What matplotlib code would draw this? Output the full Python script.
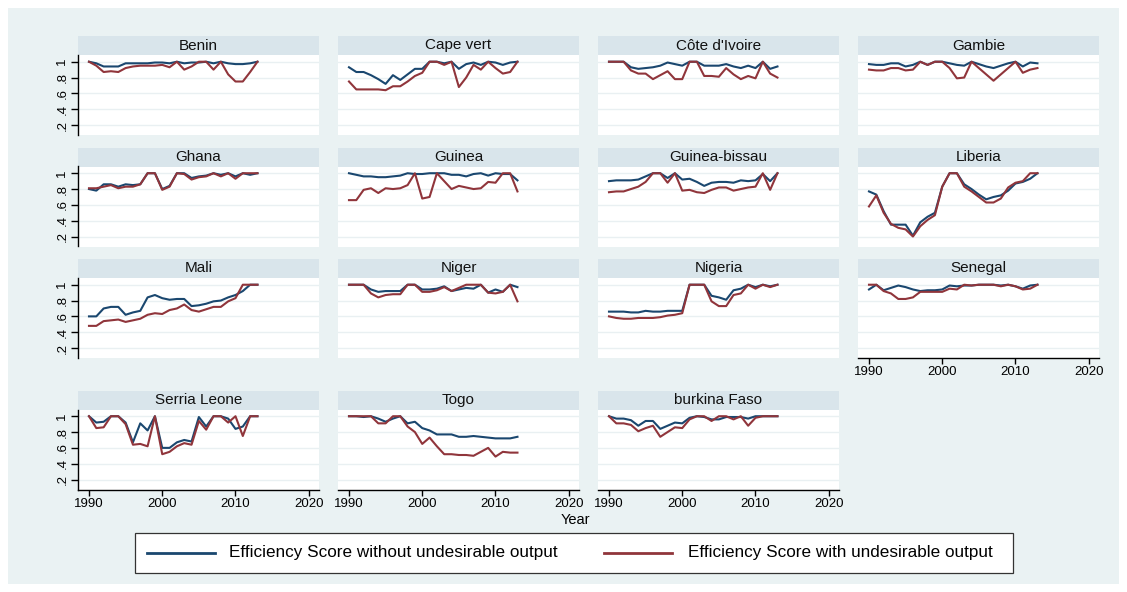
import matplotlib
matplotlib.use("Agg")
import matplotlib.pyplot as plt
from matplotlib.patches import Rectangle
from matplotlib.lines import Line2D
from matplotlib import font_manager

# ---------------------------------------------------------------- data
years = list(range(1990, 2014))

benin_wo = [1.00, 0.98, 0.94, 0.94, 0.94, 0.98, 0.98, 0.98, 0.98, 0.99, 0.99, 0.98,
            1.00, 0.98, 0.99, 0.99, 1.00, 0.98, 1.00, 0.98, 0.97, 0.97, 0.98, 1.00]
benin_w = [1.00, 0.95, 0.87, 0.88, 0.87, 0.92, 0.94, 0.95, 0.95, 0.95, 0.96, 0.93,
           1.00, 0.90, 0.94, 1.00, 1.00, 0.90, 1.00, 0.84, 0.75, 0.75, 0.87, 1.00]

capevert_wo = [0.93, 0.87, 0.87, 0.83, 0.78, 0.72, 0.83, 0.77, 0.84, 0.91, 0.91, 1.00,
               1.00, 0.98, 1.00, 0.91, 0.97, 0.99, 0.96, 1.00, 0.99, 0.96, 0.99, 1.00]
capevert_w = [0.75, 0.65, 0.65, 0.65, 0.65, 0.64, 0.69, 0.69, 0.75, 0.82, 0.86, 1.00,
              1.00, 0.96, 1.00, 0.68, 0.80, 0.96, 0.90, 1.00, 0.92, 0.85, 0.87, 1.00]

civ_wo = [1.00, 1.00, 1.00, 0.93, 0.91, 0.92, 0.93, 0.95, 0.99, 0.97, 0.95, 1.00,
          1.00, 0.95, 0.95, 0.95, 0.97, 0.94, 0.92, 0.95, 0.92, 1.00, 0.91, 0.94]
civ_w = [1.00, 1.00, 1.00, 0.89, 0.85, 0.85, 0.78, 0.83, 0.88, 0.78, 0.78, 1.00,
         1.00, 0.82, 0.82, 0.81, 0.92, 0.84, 0.78, 0.82, 0.79, 1.00, 0.85, 0.80]

gambie_wo = [0.97, 0.96, 0.96, 0.98, 0.98, 0.94, 0.96, 1.00, 0.96, 1.00, 1.00, 0.98,
             0.96, 0.95, 1.00, 0.97, 0.94, 0.92, 0.95, 0.98, 1.00, 0.94, 0.99, 0.98]
gambie_w = [0.90, 0.89, 0.89, 0.92, 0.92, 0.89, 0.90, 1.00, 0.96, 1.00, 1.00, 0.92,
            0.79, 0.80, 1.00, 0.92, 0.84, 0.76, 0.84, 0.92, 1.00, 0.86, 0.90, 0.92]

ghana_wo = [0.80, 0.78, 0.86, 0.86, 0.83, 0.86, 0.85, 0.86, 1.00, 1.00, 0.80, 0.84,
            1.00, 1.00, 0.94, 0.96, 0.97, 1.00, 0.98, 1.00, 0.96, 1.00, 0.98, 1.00]
ghana_w = [0.81, 0.81, 0.83, 0.85, 0.81, 0.83, 0.83, 0.86, 1.00, 1.00, 0.79, 0.83,
           1.00, 0.99, 0.92, 0.95, 0.96, 1.00, 0.96, 1.00, 0.93, 1.00, 1.00, 1.00]

guinea_wo = [1.00, 0.98, 0.96, 0.96, 0.95, 0.95, 0.96, 0.97, 1.00, 0.99, 0.99, 1.00,
             1.00, 1.00, 0.98, 0.98, 0.96, 0.99, 1.00, 0.97, 1.00, 0.99, 0.99, 0.91]
guinea_w = [0.66, 0.66, 0.79, 0.81, 0.75, 0.81, 0.80, 0.81, 0.85, 1.00, 0.68, 0.70,
            1.00, 0.90, 0.80, 0.84, 0.82, 0.80, 0.81, 0.89, 0.88, 1.00, 1.00, 0.77]

gbissau_wo = [0.90, 0.91, 0.91, 0.91, 0.92, 0.96, 1.00, 1.00, 0.94, 1.00, 0.92, 0.93,
              0.89, 0.84, 0.88, 0.89, 0.89, 0.88, 0.91, 0.90, 0.91, 0.99, 0.90, 1.00]
gbissau_w = [0.76, 0.77, 0.77, 0.80, 0.83, 0.89, 1.00, 1.00, 0.88, 1.00, 0.78, 0.79,
             0.76, 0.75, 0.79, 0.82, 0.82, 0.78, 0.80, 0.82, 0.83, 1.00, 0.79, 1.00]

liberia_wo = [0.77, 0.73, 0.52, 0.35, 0.35, 0.35, 0.21, 0.38, 0.45, 0.50, 0.83, 1.00,
              1.00, 0.86, 0.80, 0.73, 0.67, 0.70, 0.72, 0.78, 0.87, 0.89, 0.93, 1.00]
liberia_w = [0.58, 0.72, 0.50, 0.36, 0.31, 0.29, 0.20, 0.33, 0.41, 0.47, 0.83, 1.00,
             1.00, 0.83, 0.77, 0.70, 0.63, 0.63, 0.68, 0.82, 0.88, 0.90, 1.00, 1.00]

mali_wo = [0.60, 0.60, 0.70, 0.72, 0.72, 0.62, 0.65, 0.67, 0.84, 0.87, 0.83, 0.81,
           0.82, 0.82, 0.73, 0.74, 0.76, 0.79, 0.80, 0.84, 0.87, 0.92, 1.00, 1.00]
mali_w = [0.48, 0.48, 0.54, 0.55, 0.56, 0.53, 0.55, 0.57, 0.62, 0.64, 0.63, 0.68,
          0.70, 0.75, 0.68, 0.66, 0.69, 0.72, 0.72, 0.79, 0.83, 1.00, 1.00, 1.00]

niger_wo = [1.00, 1.00, 1.00, 0.94, 0.91, 0.92, 0.92, 0.92, 1.00, 1.00, 0.94, 0.94,
            0.95, 0.98, 0.92, 0.94, 0.96, 0.95, 1.00, 0.90, 0.94, 0.91, 1.00, 0.97]
niger_w = [1.00, 1.00, 1.00, 0.89, 0.84, 0.87, 0.88, 0.88, 1.00, 1.00, 0.91, 0.91,
           0.93, 0.97, 0.92, 0.96, 1.00, 1.00, 1.00, 0.90, 0.89, 0.91, 1.00, 0.79]

nigeria_wo = [0.66, 0.66, 0.66, 0.65, 0.65, 0.67, 0.66, 0.66, 0.67, 0.67, 0.67, 1.00,
              1.00, 1.00, 0.86, 0.84, 0.81, 0.93, 0.95, 1.00, 0.97, 1.00, 0.98, 1.00]
nigeria_w = [0.60, 0.58, 0.57, 0.57, 0.58, 0.58, 0.58, 0.59, 0.61, 0.62, 0.64, 1.00,
             1.00, 1.00, 0.79, 0.73, 0.73, 0.87, 0.89, 1.00, 0.95, 1.00, 0.97, 1.00]

senegal_wo = [0.94, 1.00, 0.93, 0.96, 0.99, 0.97, 0.94, 0.92, 0.93, 0.93, 0.94, 0.99,
              0.98, 0.99, 0.99, 1.00, 1.00, 1.00, 0.99, 1.00, 0.98, 0.95, 0.99, 1.00]
senegal_w = [1.00, 1.00, 0.92, 0.89, 0.82, 0.82, 0.84, 0.91, 0.91, 0.91, 0.91, 0.95,
             0.94, 1.00, 0.99, 1.00, 1.00, 1.00, 0.98, 1.00, 0.98, 0.94, 0.95, 1.00]

sleone_wo = [1.00, 0.92, 0.93, 1.00, 1.00, 0.92, 0.67, 0.91, 0.82, 1.00, 0.60, 0.60,
             0.67, 0.70, 0.68, 0.99, 0.87, 1.00, 1.00, 0.97, 0.84, 0.87, 1.00, 1.00]
sleone_w = [1.00, 0.85, 0.86, 1.00, 1.00, 0.90, 0.64, 0.65, 0.62, 1.00, 0.52, 0.55,
            0.62, 0.66, 0.64, 0.94, 0.83, 1.00, 1.00, 0.92, 1.00, 0.75, 1.00, 1.00]

togo_wo = [1.00, 1.00, 0.99, 1.00, 0.97, 0.93, 0.97, 1.00, 0.91, 0.93, 0.85, 0.82,
           0.77, 0.77, 0.77, 0.74, 0.74, 0.75, 0.74, 0.73, 0.72, 0.72, 0.72, 0.74]
togo_w = [1.00, 1.00, 1.00, 1.00, 0.91, 0.91, 1.00, 1.00, 0.87, 0.80, 0.65, 0.73,
          0.62, 0.52, 0.52, 0.51, 0.51, 0.50, 0.55, 0.60, 0.49, 0.55, 0.54, 0.54]

burkina_wo = [1.00, 0.97, 0.97, 0.95, 0.88, 0.94, 0.94, 0.84, 0.88, 0.92, 0.91, 0.98,
              1.00, 0.99, 0.96, 0.96, 0.99, 0.99, 0.99, 0.97, 1.00, 1.00, 1.00, 1.00]
burkina_w = [1.00, 0.91, 0.91, 0.89, 0.81, 0.85, 0.88, 0.74, 0.80, 0.86, 0.85, 0.96,
             1.00, 1.00, 0.94, 1.00, 1.00, 0.96, 1.00, 0.88, 0.98, 1.00, 1.00, 1.00]

country_names = ["Benin", "Cape vert", "Côte d'Ivoire", "Gambie",
                 "Ghana", "Guinea", "Guinea-bissau", "Liberia",
                 "Mali", "Niger", "Nigeria", "Senegal",
                 "Serria Leone", "Togo", "burkina Faso"]
series_without = [benin_wo, capevert_wo, civ_wo, gambie_wo, ghana_wo, guinea_wo,
                  gbissau_wo, liberia_wo, mali_wo, niger_wo, nigeria_wo, senegal_wo,
                  sleone_wo, togo_wo, burkina_wo]
series_with = [benin_w, capevert_w, civ_w, gambie_w, ghana_w, guinea_w,
               gbissau_w, liberia_w, mali_w, niger_w, nigeria_w, senegal_w,
               sleone_w, togo_w, burkina_w]

y_ticks = [0.2, 0.4, 0.6, 0.8, 1.0]
y_tick_labels = [".2", ".4", ".6", ".8", "1"]
x_ticks = [1990, 2000, 2010, 2020]
x_tick_labels = ["1990", "2000", "2010", "2020"]
legend_labels = ["Efficiency Score without undesirable output",
                 "Efficiency Score with undesirable output"]

# ---------------------------------------------------------------- style
NAVY = "#1A476F"
MAROON = "#90353B"
BG = "#EAF2F3"
STRIP = "#D9E5EB"
GRID = "#E9F0F2"

available = {f.name for f in font_manager.fontManager.ttflist}
BASE_FONT = "Liberation Sans" if "Liberation Sans" in available else "DejaVu Sans"
NARROW_FONT = "Liberation Sans Narrow" if "Liberation Sans Narrow" in available else BASE_FONT
plt.rcParams["font.family"] = [BASE_FONT, "DejaVu Sans"]

W, H = 1127, 592
fig = plt.figure(figsize=(W / 100, H / 100), dpi=100, facecolor="white")


def frac(left, top, width, height):
    """Pixel box (top-left origin) to figure fraction rectangle."""
    return [left / W, 1 - (top + height) / H, width / W, height / H]


# outer graph region
fig.add_artist(Rectangle((8 / W, 8 / H), (W - 16) / W, (H - 16) / H,
                         transform=fig.transFigure, facecolor=BG,
                         edgecolor="none", zorder=0))

col_left = [78, 338, 598, 858]
panel_w = 241
strip_top = [36, 147.5, 259, 390.5]
strip_h = 19
plot_h = 80
with_xaxis = {11, 12, 13, 14}

for i, name in enumerate(country_names):
    r, c = divmod(i, 4)
    left = col_left[c]
    top = strip_top[r]

    sax = fig.add_axes(frac(left, top, panel_w, strip_h))
    sax.set_facecolor(STRIP)
    sax.set_xticks([])
    sax.set_yticks([])
    for s in sax.spines.values():
        s.set_visible(False)
    sax.text(0.5, 0.5, name, ha="center", va="center", fontsize=11,
             color="#111111", transform=sax.transAxes)

    ax = fig.add_axes(frac(left, top + strip_h, panel_w, plot_h))
    ax.set_facecolor("white")
    ax.set_xlim(1988.5, 2021.4)
    ax.set_ylim(0.074, 1.085)
    ax.set_yticks(y_ticks)
    ax.grid(axis="y", color=GRID, linewidth=1.0)
    ax.set_axisbelow(True)
    for s in ax.spines.values():
        s.set_visible(False)

    ax.plot(years, series_without[i], color=NAVY, linewidth=1.5, zorder=3)
    ax.plot(years, series_with[i], color=MAROON, linewidth=1.5, zorder=3)

    if c == 0:
        ax.spines["left"].set_visible(True)
        ax.spines["left"].set_linewidth(1.0)
        ax.set_yticklabels(y_tick_labels, rotation=90, va="center", fontsize=9.5)
        ax.tick_params(axis="y", length=5, width=1.0, pad=2, colors="black")
    else:
        ax.tick_params(axis="y", left=False, labelleft=False)

    if i in with_xaxis:
        ax.spines["bottom"].set_visible(True)
        ax.spines["bottom"].set_linewidth(1.0)
        ax.set_xticks(x_ticks)
        ax.set_xticklabels(x_tick_labels, fontsize=9.5)
        ax.tick_params(axis="x", length=4, width=1.0, pad=2, colors="black")
    else:
        ax.set_xticks([])

fig.text(575 / W, 1 - 520 / H, "Year", ha="center", va="center", fontsize=10.5)

# legend box
lg_left, lg_top, lg_right, lg_bottom = 135, 533, 1013, 573
fig.add_artist(Rectangle((lg_left / W, 1 - lg_bottom / H),
                         (lg_right - lg_left) / W, (lg_bottom - lg_top) / H,
                         transform=fig.transFigure, facecolor="white",
                         edgecolor="#333333", linewidth=0.9, zorder=2))
ly = 1 - 553 / H
for (x0, x1, tx), col, lab in zip([(147, 215, 229), (604, 672, 688)],
                                  [NAVY, MAROON], legend_labels):
    fig.add_artist(Line2D([x0 / W, x1 / W], [ly, ly], transform=fig.transFigure,
                          color=col, linewidth=2.0, zorder=3))
    fig.text(tx / W, ly, lab, ha="left", va="center", fontsize=12.3,
             family=[NARROW_FONT, "DejaVu Sans"], zorder=3)

fig.savefig("out.png", dpi=100, facecolor="white")
